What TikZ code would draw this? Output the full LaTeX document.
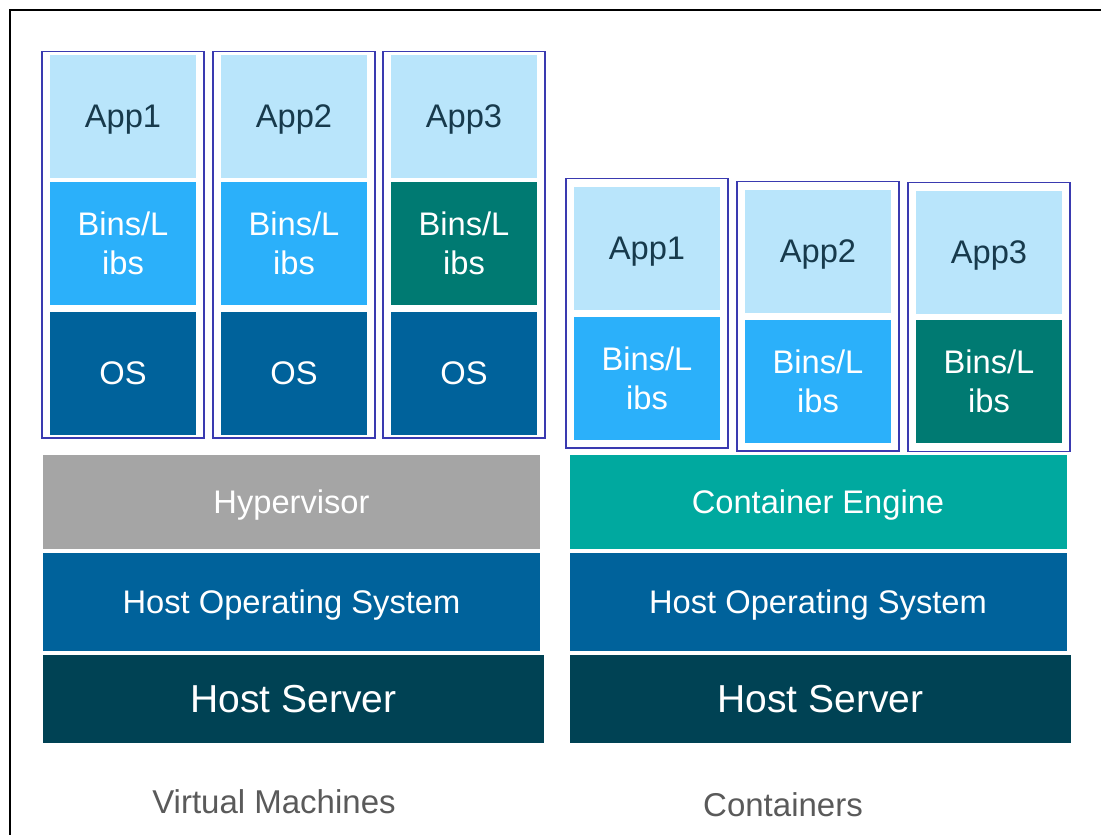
\documentclass[tikz,border=0pt]{standalone}
\usepackage{fontspec}
\setmainfont{Liberation Sans}
\usetikzlibrary{positioning,fit}

\definecolor{appblue}{HTML}{B9E5FB}
\definecolor{apptext}{HTML}{173A4C}
\definecolor{binblue}{HTML}{2BB0FA}
\definecolor{binteal}{HTML}{007A72}
\definecolor{osblue}{HTML}{00629B}
\definecolor{hypergrey}{HTML}{A5A5A5}
\definecolor{engineteal}{HTML}{00A99F}
\definecolor{serverblue}{HTML}{004254}
\definecolor{boxline}{HTML}{3A3AB0}
\definecolor{captiongrey}{HTML}{5A5A5A}

\tikzset{
  tile/.style={minimum width=110pt, minimum height=92.25pt, inner sep=0pt, outer sep=0pt,
    align=center, font=\fontsize{24.5pt}{29pt}\selectfont},
  app/.style={tile, fill=appblue, text=apptext, text depth=0pt},
  bins/.style={tile, fill=binblue, text=white},
  binsalt/.style={tile, fill=binteal, text=white},
  os/.style={tile, fill=osblue, text=white},
  layer/.style={minimum width=372.75pt, inner sep=0pt, outer sep=0pt, text=white,
    text depth=0pt, font=\fontsize{24.5pt}{29pt}\selectfont},
  server/.style={layer, minimum width=375.75pt, minimum height=66pt, fill=serverblue,
    font=\fontsize{29.25pt}{34pt}\selectfont},
  vmframe/.style={draw=boxline, line width=1.4pt, inner xsep=6pt, inner ysep=2.6pt},
  ctframe/.style={draw=boxline, line width=1.4pt, inner xsep=6pt, inner ysep=6.4pt},
  caption/.style={text=captiongrey, font=\fontsize{24.75pt}{29pt}\selectfont}
}

\begin{document}
\begin{tikzpicture}[x=0.75pt,y=-0.75pt]
  \useasboundingbox (0,0) rectangle (1101,835);
  % outer frame
  \draw[line width=0.8pt] (1101,10) -- (10,10) -- (10,835);

  % virtual machines
  \node[app] at (123,116.5) (vmapp1) {App1};
  \node[bins, below=3pt of vmapp1] (vmbins1) {Bins/L\\ibs};
  \node[os, below=5pt of vmbins1] (vmos1) {OS};
  \node[app] at (294,116.5) (vmapp2) {App2};
  \node[bins, below=3pt of vmapp2] (vmbins2) {Bins/L\\ibs};
  \node[os, below=5pt of vmbins2] (vmos2) {OS};
  \node[app] at (464,116.5) (vmapp3) {App3};
  \node[binsalt, below=3pt of vmapp3] (vmbins3) {Bins/L\\ibs};
  \node[os, below=5pt of vmbins3] (vmos3) {OS};
  \node[vmframe, fit=(vmapp1)(vmos1)] (vm1) {};
  \node[vmframe, fit=(vmapp2)(vmos2)] (vm2) {};
  \node[vmframe, fit=(vmapp3)(vmos3)] (vm3) {};

  \node[layer, minimum height=70.5pt, fill=hypergrey] at (291.5,502) (hypervisor) {Hypervisor};
  \node[layer, minimum height=73.5pt, fill=osblue] at (291.5,602) (vmhostos) {Host Operating System};
  \node[server] at (293.5,699) (vmserver) {Host Server};
  \node[caption] at (274,802) (vmcaption) {Virtual Machines};

  % containers
  \node[app] at (647,248.5) (ctapp1) {App1};
  \node[bins, below=5pt of ctapp1] (ctbins1) {Bins/L\\ibs};
  \node[app] at (818,251.5) (ctapp2) {App2};
  \node[bins, below=5pt of ctapp2] (ctbins2) {Bins/L\\ibs};
  \node[app] at (989,252.5) (ctapp3) {App3};
  \node[binsalt, below=4.5pt of ctapp3] (ctbins3) {Bins/L\\ibs};
  \node[ctframe, fit=(ctapp1)(ctbins1)] (ct1) {};
  \node[ctframe, fit=(ctapp2)(ctbins2)] (ct2) {};
  \node[ctframe, fit=(ctapp3)(ctbins3)] (ct3) {};

  \node[layer, minimum height=70.5pt, fill=engineteal] at (818,502) (engine) {Container Engine};
  \node[layer, minimum height=73.5pt, fill=osblue] at (818,602) (cthostos) {Host Operating System};
  \node[server] at (820.5,699) (ctserver) {Host Server};
  \node[caption] at (783,805) (ctcaption) {Containers};
\end{tikzpicture}
\end{document}
